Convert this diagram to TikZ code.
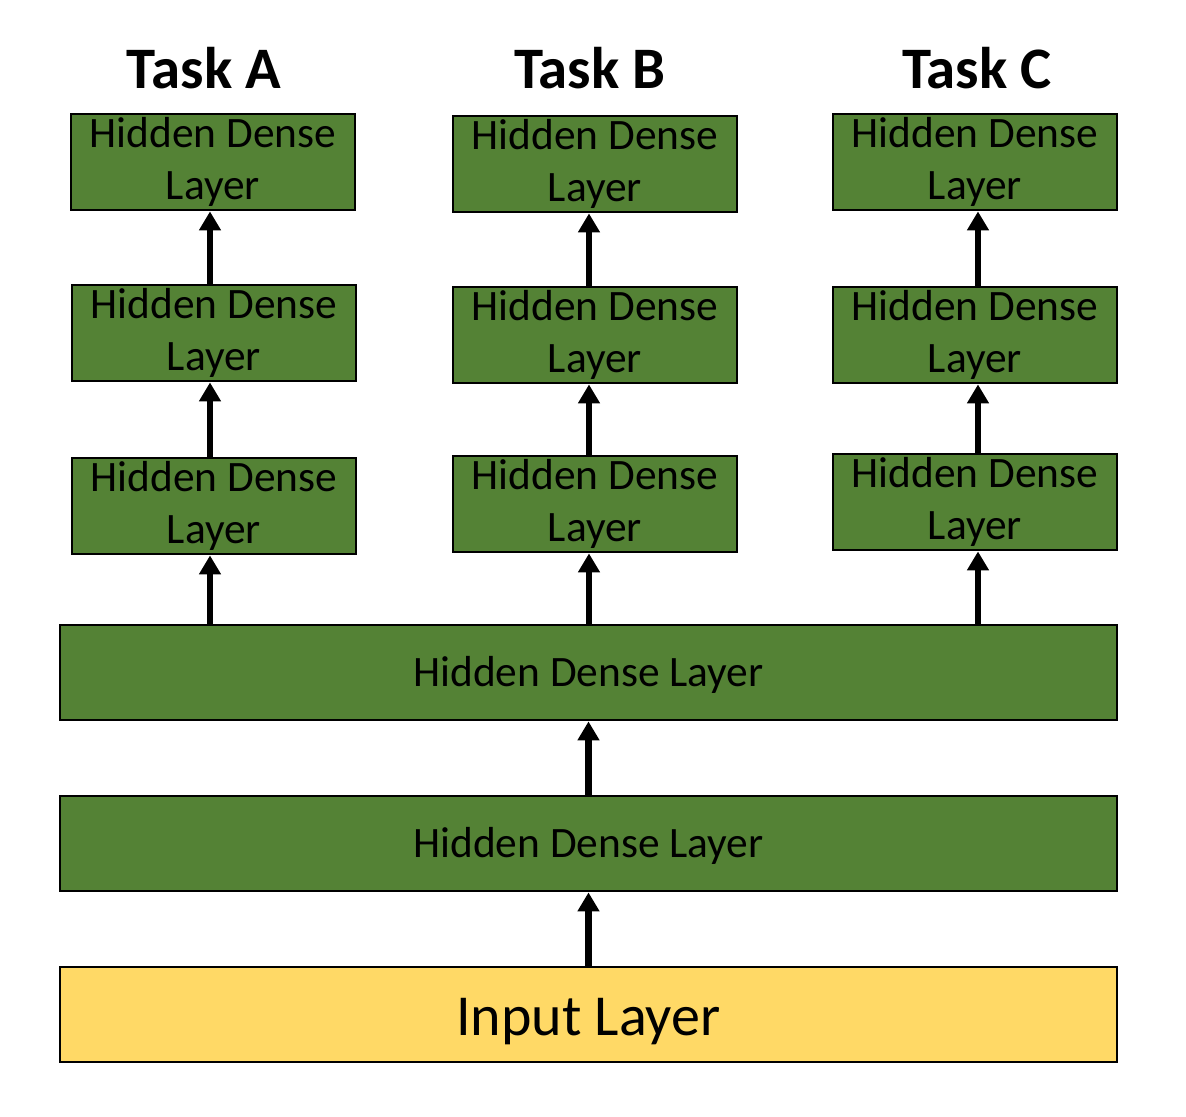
\documentclass[tikz,border=0pt]{standalone}
\usepackage{fontspec}
\setmainfont{Carlito}
\usetikzlibrary{arrows.meta}
\definecolor{dgreen}{HTML}{548235}
\definecolor{ylw}{HTML}{FFD966}
\begin{document}
\begin{tikzpicture}[x=0.5pt,y=-0.5pt,
 layerbox/.style={draw=black, line width=1.4pt, fill=dgreen, inner sep=0pt, minimum width=142pt, minimum height=48pt, align=center, font=\fontsize{21.7}{26}\selectfont},
 widebox/.style={layerbox, minimum width=528.5pt, minimum height=47.5pt, text height=18pt, text depth=4.5pt},
 arr/.style={-{Triangle[width=10.5pt,length=9.5pt]}, line width=3.4pt},
 tasktitle/.style={anchor=base, inner sep=0pt, font=\fontsize{29.4}{32}\selectfont\bfseries}]
\useasboundingbox (0,0) rectangle (1186,1116);
% shared trunk
\node[widebox, fill=ylw, font=\fontsize{29}{32}\selectfont, text height=26.6pt, text depth=5.8pt] (inp) at (588.5,1014.5) {Input Layer};
\node[widebox] (h2) at (588.5,843.5) {Hidden Dense Layer};
\node[widebox] (h1) at (588.5,672.5) {Hidden Dense Layer};
% Task A
\node[layerbox] (a1) at (214,506) {Hidden Dense\\Layer};
\node[layerbox] (a2) at (214,333) {Hidden Dense\\Layer};
\node[layerbox] (a3) at (213,162) {Hidden Dense\\Layer};
% Task B
\node[layerbox] (b1) at (595,504) {Hidden Dense\\Layer};
\node[layerbox] (b2) at (595,335) {Hidden Dense\\Layer};
\node[layerbox] (b3) at (595,164) {Hidden Dense\\Layer};
% Task C
\node[layerbox] (c1) at (975,502) {Hidden Dense\\Layer};
\node[layerbox] (c2) at (975,335) {Hidden Dense\\Layer};
\node[layerbox] (c3) at (975,162) {Hidden Dense\\Layer};
% titles
\node[tasktitle] (ta) at (204,88) {Task A};
\node[tasktitle] (tb) at (590,88) {Task B};
\node[tasktitle] (tc) at (977,88) {Task C};
% arrows
\draw[arr] (inp.north) -- (h2.south);
\draw[arr] (h2.north) -- (h1.south);
\draw[arr] ([xshift=-2pt]h1.north -| a1.south) -- ([xshift=-2pt]a1.south);
\draw[arr] ([xshift=-3pt]h1.north -| b1.south) -- ([xshift=-3pt]b1.south);
\draw[arr] ([xshift=1.5pt]h1.north -| c1.south) -- ([xshift=1.5pt]c1.south);
\draw[arr] ([xshift=-2pt]a1.north) -- ([xshift=-2pt]a1.north |- a2.south);
\draw[arr] ([xshift=-2pt]a2.north) -- ([xshift=-2pt]a2.north |- a3.south);
\draw[arr] ([xshift=-3pt]b1.north) -- ([xshift=-3pt]b2.south);
\draw[arr] ([xshift=-3pt]b2.north) -- ([xshift=-3pt]b3.south);
\draw[arr] ([xshift=1.5pt]c1.north) -- ([xshift=1.5pt]c2.south);
\draw[arr] ([xshift=1.5pt]c2.north) -- ([xshift=1.5pt]c3.south);
\end{tikzpicture}
\end{document}
